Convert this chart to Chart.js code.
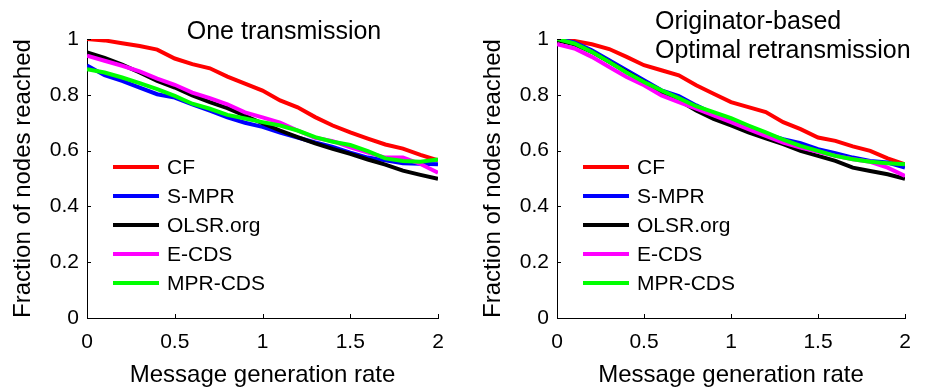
<!DOCTYPE html>
<html>
<head>
<meta charset="utf-8">
<script src="https://cdn.jsdelivr.net/npm/chart.js@4/dist/chart.umd.min.js"></script>
<style>
  body { margin: 0; background: #fff; width: 933px; height: 392px; overflow: hidden; position: relative; }
  canvas { position: absolute; top: 0; }
</style>
</head>
<body>
<canvas id="chartOne" width="466" height="392" style="left:0px"></canvas>
<canvas id="chartOpt" width="463" height="392" style="left:470px"></canvas>
<script>
// message generation rate (x values)
var rates = [0, 0.1, 0.2, 0.3, 0.4, 0.5, 0.6, 0.7, 0.8, 0.9, 1.0,
             1.1, 1.2, 1.3, 1.4, 1.5, 1.6, 1.7, 1.8, 1.9, 2.0];
var seriesNames = ['CF', 'S-MPR', 'OLSR.org', 'E-CDS', 'MPR-CDS'];
var xTicks = [0, 0.5, 1, 1.5, 2];
var yTicks = [0, 0.2, 0.4, 0.6, 0.8, 1];

// left: one transmission
var cfOne    = [1.0, 0.995, 0.985, 0.975, 0.962, 0.930, 0.910, 0.895, 0.865, 0.840, 0.815, 0.780, 0.755, 0.720, 0.690, 0.665, 0.643, 0.622, 0.607, 0.585, 0.565];
var smprOne  = [0.905, 0.870, 0.850, 0.826, 0.802, 0.790, 0.766, 0.743, 0.719, 0.700, 0.685, 0.665, 0.647, 0.629, 0.613, 0.593, 0.575, 0.565, 0.555, 0.553, 0.551];
var olsrOne  = [0.952, 0.932, 0.908, 0.880, 0.850, 0.826, 0.798, 0.774, 0.752, 0.725, 0.698, 0.672, 0.648, 0.626, 0.606, 0.588, 0.568, 0.550, 0.528, 0.513, 0.499];
var ecdsOne  = [0.940, 0.922, 0.904, 0.884, 0.858, 0.836, 0.808, 0.788, 0.766, 0.737, 0.719, 0.700, 0.672, 0.646, 0.634, 0.612, 0.593, 0.575, 0.575, 0.552, 0.521];
var mprOne   = [0.892, 0.880, 0.862, 0.842, 0.820, 0.796, 0.768, 0.750, 0.728, 0.715, 0.702, 0.690, 0.672, 0.648, 0.632, 0.620, 0.598, 0.572, 0.563, 0.560, 0.568];

// right: originator-based optimal retransmission
var cfOpt    = [1.0, 0.993, 0.981, 0.964, 0.936, 0.906, 0.888, 0.870, 0.834, 0.804, 0.774, 0.756, 0.738, 0.702, 0.677, 0.647, 0.635, 0.615, 0.599, 0.572, 0.551];
var smprOpt  = [1.0, 0.988, 0.960, 0.924, 0.888, 0.852, 0.816, 0.795, 0.762, 0.732, 0.714, 0.684, 0.659, 0.641, 0.627, 0.605, 0.591, 0.575, 0.563, 0.557, 0.539];
var olsrOpt  = [0.996, 0.981, 0.954, 0.918, 0.882, 0.846, 0.810, 0.780, 0.744, 0.714, 0.690, 0.665, 0.644, 0.623, 0.599, 0.581, 0.563, 0.539, 0.527, 0.515, 0.499];
var ecdsOpt  = [0.981, 0.966, 0.936, 0.900, 0.864, 0.834, 0.798, 0.774, 0.750, 0.726, 0.702, 0.677, 0.653, 0.629, 0.611, 0.596, 0.581, 0.569, 0.560, 0.539, 0.509];
var mprOpt   = [1.0, 0.984, 0.954, 0.918, 0.880, 0.846, 0.816, 0.788, 0.759, 0.738, 0.716, 0.690, 0.665, 0.639, 0.617, 0.599, 0.581, 0.569, 0.560, 0.555, 0.551];

var colors = ['#ff0000', '#0000ff', '#000000', '#ff00ff', '#00ff00'];
var FONT = '"Liberation Sans", Arial, Helvetica, sans-serif';

function makeDatasets(list) {
    return list.map(function (vals, i) {
        return {
            label: seriesNames[i],
            data: rates.map(function (x, j) { return {x: x, y: vals[j]}; }),
            borderColor: colors[i],
            backgroundColor: colors[i],
            borderWidth: 4,
            pointRadius: 0,
            tension: 0,
            fill: false,
            order: list.length - i   // later series on top, like matlab
        };
    });
}

// plain number labels: 1 not 1.0
function plainTick(v) { return String(Number(v.toFixed(2))); }

// legend inside plot + inward tick marks + title text
var decor = {
    id: 'decor',
    afterDatasetsDraw: function (chart) {
        var c = chart.ctx, a = chart.chartArea;
        var xs = chart.scales.x, ys = chart.scales.y;
        c.save();
        c.strokeStyle = '#000';
        c.lineWidth = 1;
        c.beginPath();
        xTicks.forEach(function (t) {
            var px = Math.round(xs.getPixelForValue(t)) + 0.5;
            c.moveTo(px, a.bottom); c.lineTo(px, a.bottom - 4);
        });
        yTicks.forEach(function (t) {
            var py = Math.round(ys.getPixelForValue(t)) + 0.5;
            c.moveTo(a.left, py); c.lineTo(a.left + 4, py);
        });
        c.stroke();

        // legend
        c.font = '21px ' + FONT;
        c.textBaseline = 'middle';
        c.textAlign = 'left';
        chart.data.datasets.forEach(function (ds, i) {
            var y = a.top + 128 + i * 29;
            c.strokeStyle = ds.borderColor;
            c.lineWidth = 4;
            c.beginPath();
            c.moveTo(a.left + 26, y); c.lineTo(a.left + 72, y);
            c.stroke();
            c.fillStyle = '#000';
            c.fillText(ds.label, a.left + 80, y + 1);
        });

        // title
        var t = chart.options.plugins.decorTitle;
        c.font = '25px ' + FONT;
        c.fillStyle = '#000';
        c.textBaseline = 'alphabetic';
        c.textAlign = t.align;
        t.lines.forEach(function (line, i) {
            c.fillText(line, t.x, t.y + i * 29);
        });
        c.restore();
    }
};

function makeChart(id, data, title) {
    return new Chart(document.getElementById(id), {
        type: 'line',
        data: { datasets: makeDatasets(data) },
        options: {
            responsive: false,
            animation: false,
            layout: { padding: { left: 0, right: 28, top: 39, bottom: 0 } },
            plugins: {
                legend: { display: false },
                tooltip: { enabled: false },
                decorTitle: title
            },
            scales: {
                x: {
                    type: 'linear',
                    min: 0, max: 2,
                    afterBuildTicks: function (s) { s.ticks = xTicks.map(function (v) { return {value: v}; }); },
                    afterFit: function (s) { s.height = 74; },
                    grid: { display: false, drawTicks: false },
                    border: { display: true, color: '#000', width: 1 },
                    ticks: { color: '#000', padding: 12, font: { family: FONT, size: 21 }, maxRotation: 0,
                             callback: plainTick },
                    title: { display: true, text: 'Message generation rate', color: '#000',
                             font: { family: FONT, size: 24 }, padding: { top: 0, bottom: 2 } }
                },
                y: {
                    min: 0, max: 1,
                    afterBuildTicks: function (s) { s.ticks = yTicks.map(function (v) { return {value: v}; }); },
                    afterFit: function (s) { s.width = 87; },
                    grid: { display: false, drawTicks: false },
                    border: { display: true, color: '#000', width: 1 },
                    ticks: { color: '#000', padding: 8, font: { family: FONT, size: 21 },
                             callback: plainTick },
                    title: { display: true, text: 'Fraction of nodes reached', color: '#000',
                             font: { family: FONT, size: 24 }, padding: { top: 9, bottom: 0 } }
                }
            }
        },
        plugins: [decor]
    });
}

makeChart('chartOne', [cfOne, smprOne, olsrOne, ecdsOne, mprOne],
          { lines: ['One transmission'], x: 284, y: 39, align: 'center' });
makeChart('chartOpt', [cfOpt, smprOpt, olsrOpt, ecdsOpt, mprOpt],
          { lines: ['Originator-based', 'Optimal retransmission'], x: 185, y: 29, align: 'left' });
</script>
</body>
</html>
